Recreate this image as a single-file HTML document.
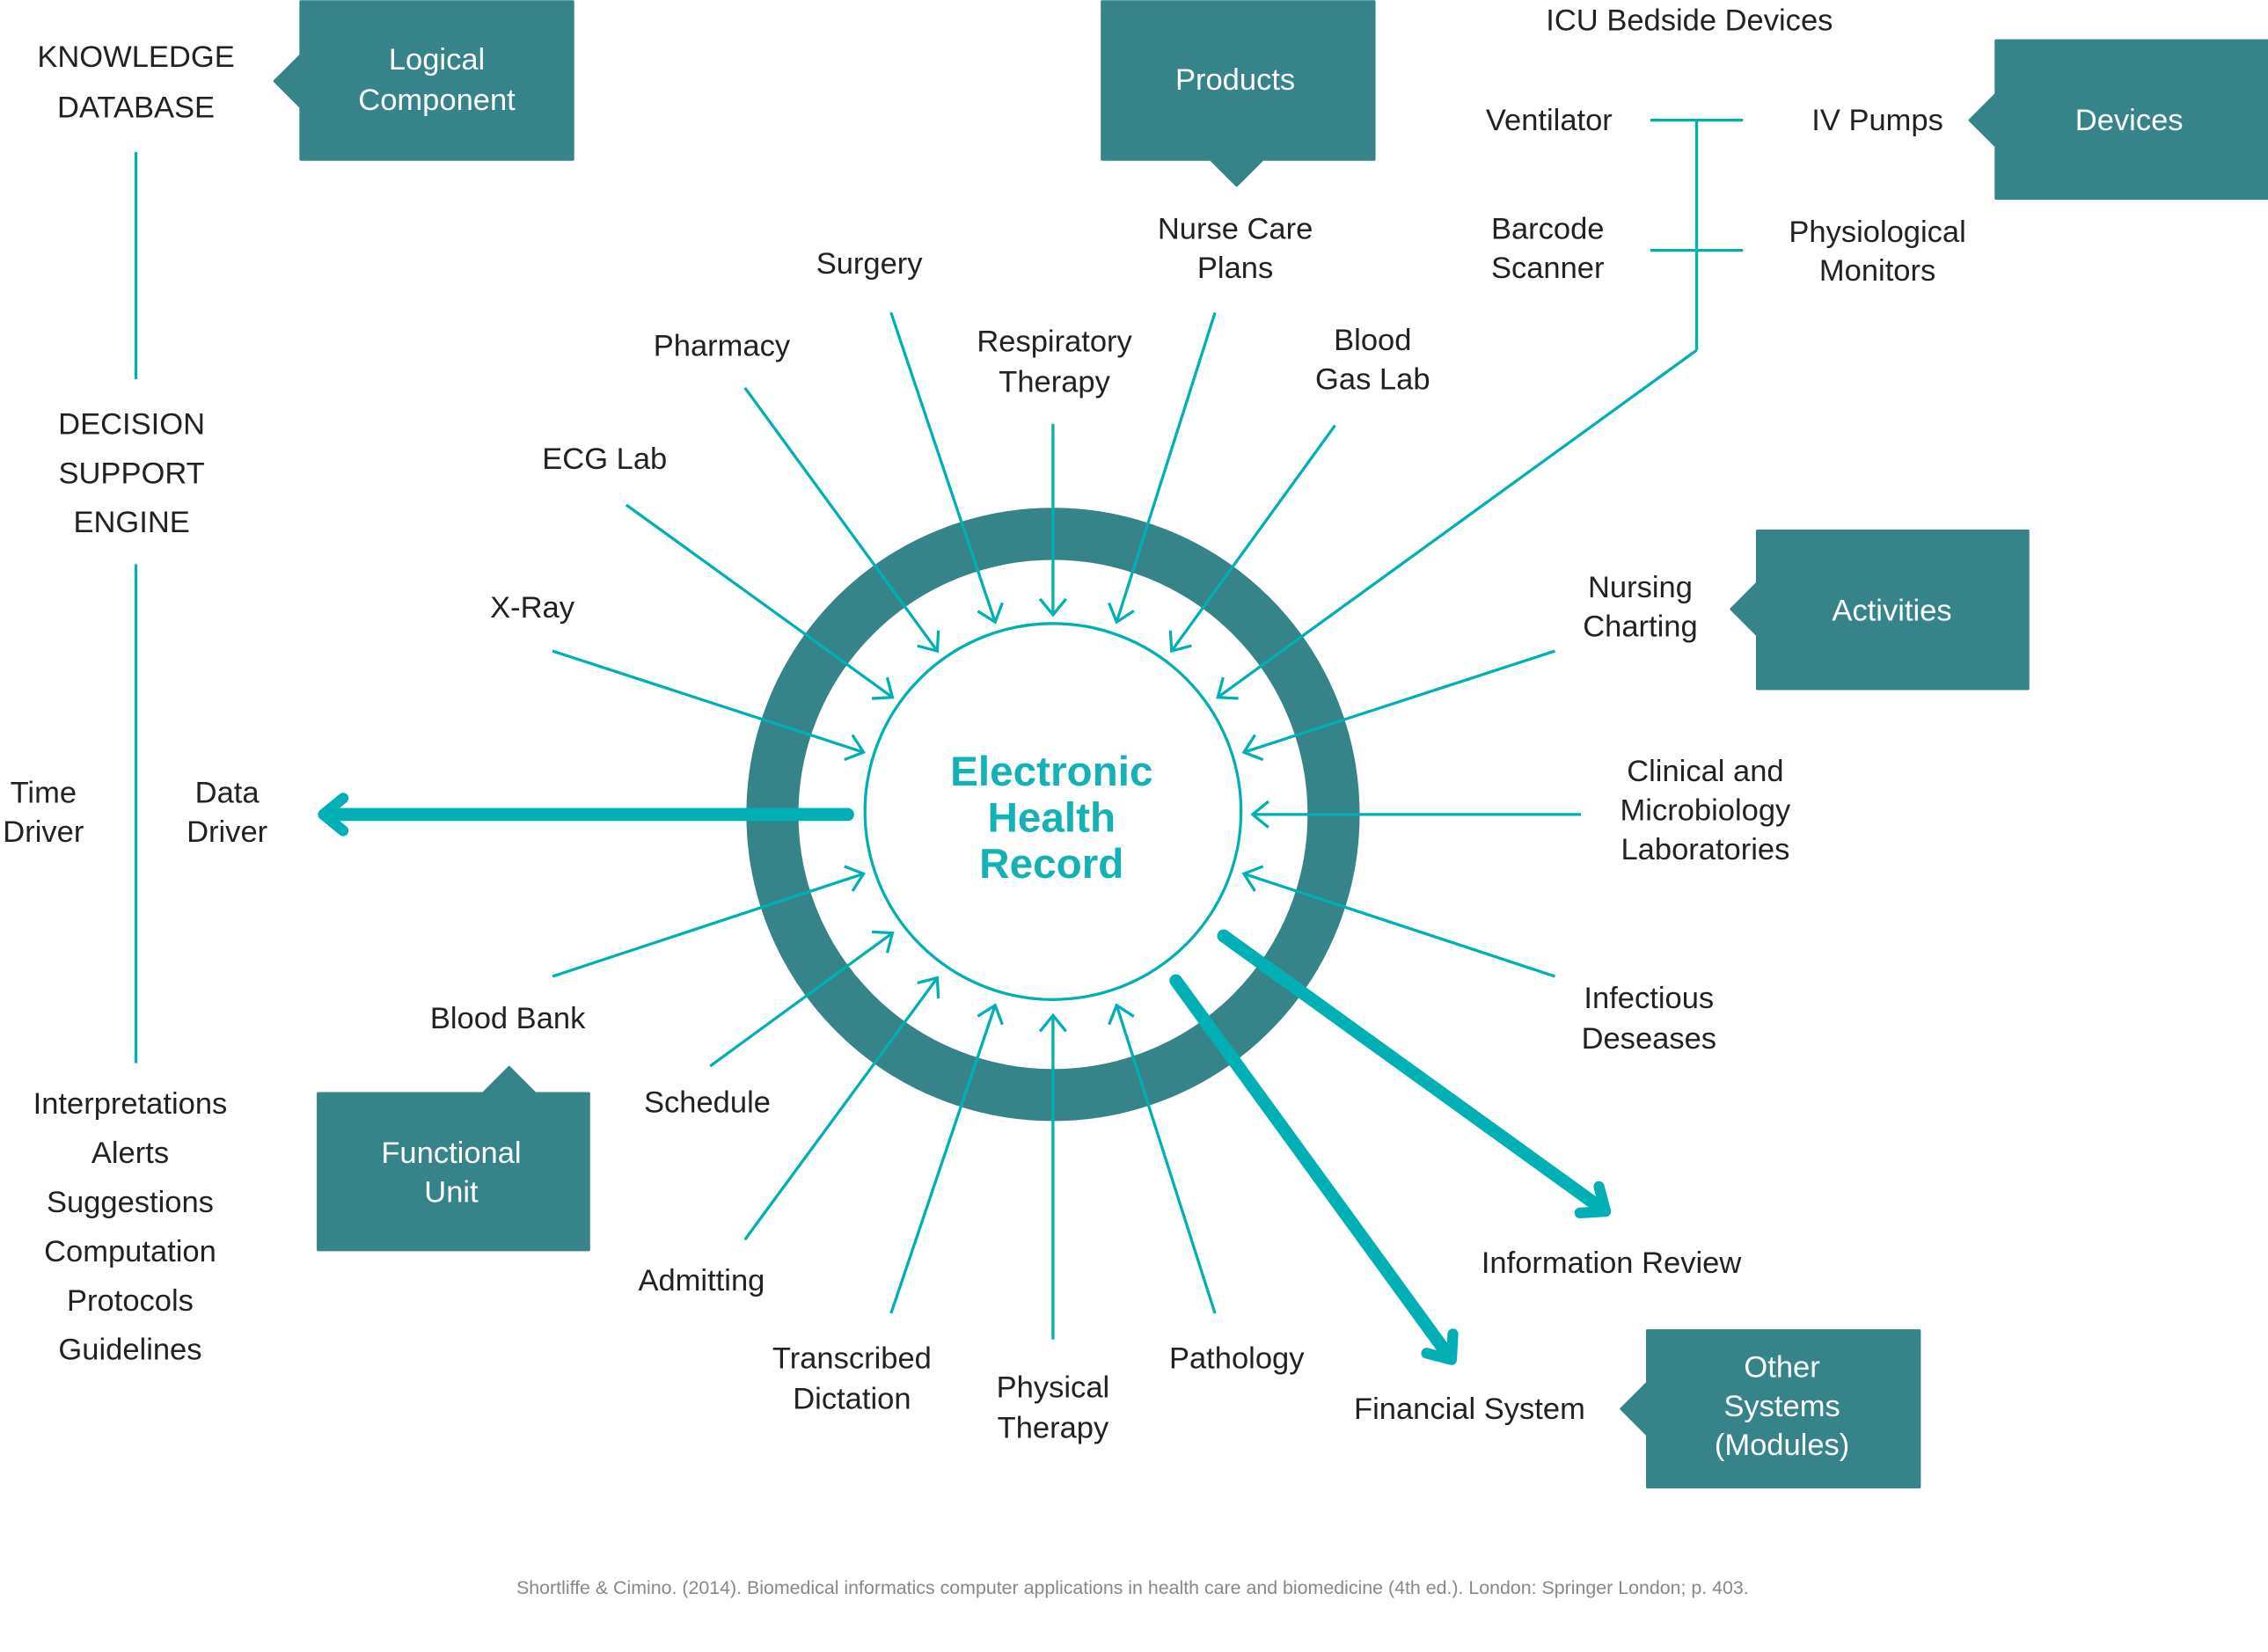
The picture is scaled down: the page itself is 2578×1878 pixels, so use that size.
<!DOCTYPE html>
<html><head><meta charset="utf-8"><style>
html,body{margin:0;padding:0;background:#fff;}
svg{display:block;}
text{font-family:"Liberation Sans",sans-serif;fill:#222;font-size:21px;text-anchor:middle;}
.w{fill:#fff;}
</style></head><body>
<svg width="2578" height="1878" viewBox="0 0 1568 1142" xmlns="http://www.w3.org/2000/svg">
<defs>
<marker id="a" markerWidth="26" markerHeight="26" refX="13" refY="10" orient="auto" markerUnits="userSpaceOnUse" viewBox="0 0 26 20">
<path d="M2,1 L13,10 L2,19" fill="none" stroke="#00b0b4" stroke-width="2"/>
</marker>
<marker id="b" markerWidth="30" markerHeight="30" refX="12" refY="12" orient="auto" markerUnits="userSpaceOnUse" viewBox="0 0 24 24">
<path d="M3,3 L14,12 L3,21" fill="none" stroke="#00b0b4" stroke-width="6" stroke-linecap="round" stroke-linejoin="round"/>
</marker>
</defs>
<circle cx="728" cy="563" r="194" fill="none" stroke="#36848a" stroke-width="36"/>
<circle cx="728" cy="561" r="130" fill="none" stroke="#00b0b4" stroke-width="2"/>
<g stroke="#00b0b4" stroke-width="2" fill="none" marker-end="url(#a)">
<line x1="616" y1="216" x2="688" y2="430"/>
<line x1="515" y1="268" x2="648" y2="450"/>
<line x1="728" y1="293" x2="728" y2="425"/>
<line x1="840" y1="216" x2="772" y2="430"/>
<line x1="923" y1="294" x2="810" y2="450"/>
<line x1="1173" y1="242" x2="842" y2="482"/>
<line x1="433" y1="349" x2="617" y2="482"/>
<line x1="382" y1="450" x2="597" y2="520"/>
<line x1="1075" y1="450" x2="860" y2="520"/>
<line x1="1093" y1="563" x2="866" y2="563"/>
<line x1="1075" y1="675" x2="860" y2="604"/>
<line x1="382" y1="675" x2="597" y2="604"/>
<line x1="491" y1="737" x2="617" y2="645"/>
<line x1="515" y1="857" x2="648" y2="676"/>
<line x1="616" y1="908" x2="688" y2="695"/>
<line x1="728" y1="926" x2="728" y2="702"/>
<line x1="840" y1="908" x2="772" y2="695"/>
</g>
<g stroke="#00b0b4" stroke-width="2" fill="none">
<line x1="1173" y1="83" x2="1173" y2="242"/>
<line x1="1141" y1="83" x2="1205" y2="83"/>
<line x1="1141" y1="173" x2="1205" y2="173"/>
</g>
<g stroke="#00b0b4" stroke-width="9" stroke-linecap="round" fill="none" marker-end="url(#b)">
<line x1="586" y1="563" x2="226" y2="563"/>
<line x1="846" y1="647" x2="1108" y2="836"/>
<line x1="813" y1="678" x2="1002" y2="938"/>
</g>
<g stroke="#00b0b4" stroke-width="2">
<line x1="94" y1="105" x2="94" y2="262"/>
<line x1="94" y1="390" x2="94" y2="735"/>
</g>
<g fill="#36848a" stroke="#36848a" stroke-width="2" stroke-linejoin="round">
<path d="M208,1 H396 V110 H208 V74 L190,56 L208,38 Z"/>
<path d="M762,1 H950 V110 H873 L855,128 L837,110 H762 Z"/>
<path d="M1380,28 H1568 V137 H1380 V101 L1362,83 L1380,65 Z"/>
<path d="M1215,367 H1402 V476 H1215 V439 L1197,421 L1215,403 Z"/>
<path d="M220,756 H334 L352,738 L370,756 H407 V864 H220 Z"/>
<path d="M1139,920 H1327 V1028 H1139 V992 L1121,974 L1139,956 Z"/>
</g>
<g class="w">
<text class="w" x="302" y="48">Logical</text><text class="w" x="302" y="76">Component</text>
<text class="w" x="854" y="62">Products</text>
<text class="w" x="1472" y="90">Devices</text>
<text class="w" x="1308" y="429">Activities</text>
<text class="w" x="312" y="804">Functional</text><text class="w" x="312" y="831">Unit</text>
<text class="w" x="1232" y="952">Other</text><text class="w" x="1232" y="979">Systems</text><text class="w" x="1232" y="1006">(Modules)</text>
</g>
<text x="727" y="543" style="fill:#14b1b5;font-size:29px;font-weight:bold">Electronic</text>
<text x="727" y="575" style="fill:#14b1b5;font-size:29px;font-weight:bold">Health</text>
<text x="727" y="607" style="fill:#14b1b5;font-size:29px;font-weight:bold">Record</text>
<text x="94" y="46">KNOWLEDGE</text><text x="94" y="81">DATABASE</text>
<text x="91" y="300">DECISION</text><text x="91" y="334">SUPPORT</text><text x="91" y="368">ENGINE</text>
<text x="30" y="555">Time</text><text x="30" y="582">Driver</text>
<text x="157" y="555">Data</text><text x="157" y="582">Driver</text>
<text x="90" y="770">Interpretations</text><text x="90" y="804">Alerts</text><text x="90" y="838">Suggestions</text>
<text x="90" y="872">Computation</text><text x="90" y="906">Protocols</text><text x="90" y="940">Guidelines</text>
<text x="1168" y="21">ICU Bedside Devices</text>
<text x="1071" y="90">Ventilator</text>
<text x="1298" y="90">IV Pumps</text>
<text x="1070" y="165">Barcode</text><text x="1070" y="192">Scanner</text>
<text x="1298" y="167">Physiological</text><text x="1298" y="194">Monitors</text>
<text x="854" y="165">Nurse Care</text><text x="854" y="192">Plans</text>
<text x="601" y="189">Surgery</text>
<text x="499" y="246">Pharmacy</text>
<text x="729" y="243">Respiratory</text><text x="729" y="271">Therapy</text>
<text x="949" y="242">Blood</text><text x="949" y="269">Gas Lab</text>
<text x="418" y="324">ECG Lab</text>
<text x="368" y="427">X-Ray</text>
<text x="1134" y="413">Nursing</text><text x="1134" y="440">Charting</text>
<text x="1179" y="540">Clinical and</text><text x="1179" y="567">Microbiology</text><text x="1179" y="594">Laboratories</text>
<text x="1140" y="697">Infectious</text><text x="1140" y="725">Deseases</text>
<text x="351" y="711">Blood Bank</text>
<text x="489" y="769">Schedule</text>
<text x="485" y="892">Admitting</text>
<text x="589" y="946">Transcribed</text><text x="589" y="974">Dictation</text>
<text x="728" y="966">Physical</text><text x="728" y="994">Therapy</text>
<text x="855" y="946">Pathology</text>
<text x="1114" y="880">Information Review</text>
<text x="1016" y="981">Financial System</text>
<text x="783" y="1102" style="font-size:13px;fill:#888">Shortliffe &amp; Cimino. (2014). Biomedical informatics computer applications in health care and biomedicine (4th ed.). London: Springer London; p. 403.</text>
</svg>
</body></html>
